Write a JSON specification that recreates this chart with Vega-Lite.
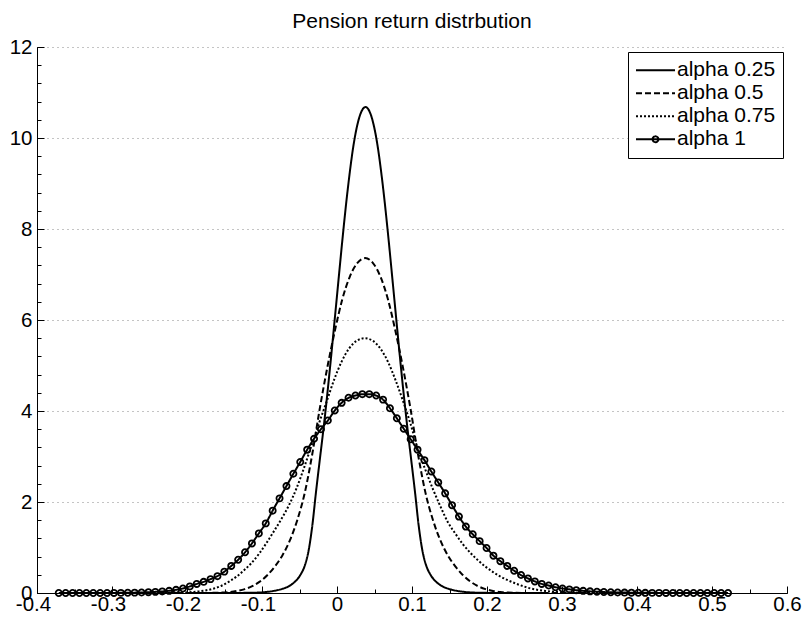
{
  "$schema": "https://vega.github.io/schema/vega-lite/v6.json",
  "width": 750,
  "height": 546,
  "autosize": {"type": "none"},
  "padding": {"left": 37, "top": 47, "right": 17, "bottom": 32},
  "title": {"text": "Pension return distrbution", "font": "Liberation Sans", "fontSize": 21, "fontWeight": "normal", "color": "black", "anchor": "middle", "frame": "group", "offset": 5},
  "data": {"values": [
    {"series":"alpha 0.25","x":-0.2,"y":0},{"series":"alpha 0.25","x":-0.163,"y":0},{"series":"alpha 0.25","x":-0.123,"y":0.003},{"series":"alpha 0.25","x":-0.103,"y":0.012},{"series":"alpha 0.25","x":-0.093,"y":0.025},{"series":"alpha 0.25","x":-0.083,"y":0.05},{"series":"alpha 0.25","x":-0.073,"y":0.09},{"series":"alpha 0.25","x":-0.063,"y":0.16},{"series":"alpha 0.25","x":-0.058,"y":0.22},{"series":"alpha 0.25","x":-0.053,"y":0.3},{"series":"alpha 0.25","x":-0.048,"y":0.42},{"series":"alpha 0.25","x":-0.043,"y":0.6},{"series":"alpha 0.25","x":-0.038,"y":0.92},{"series":"alpha 0.25","x":-0.033,"y":1.47},{"series":"alpha 0.25","x":-0.028,"y":2.22},{"series":"alpha 0.25","x":-0.023,"y":2.92},{"series":"alpha 0.25","x":-0.018,"y":3.61},{"series":"alpha 0.25","x":-0.013,"y":4.36},{"series":"alpha 0.25","x":-0.008,"y":5.17},{"series":"alpha 0.25","x":-0.003,"y":6.02},{"series":"alpha 0.25","x":0.002,"y":6.88},{"series":"alpha 0.25","x":0.007,"y":7.73},{"series":"alpha 0.25","x":0.012,"y":8.53},{"series":"alpha 0.25","x":0.017,"y":9.24},{"series":"alpha 0.25","x":0.022,"y":9.84},{"series":"alpha 0.25","x":0.027,"y":10.28},{"series":"alpha 0.25","x":0.032,"y":10.56},{"series":"alpha 0.25","x":0.038,"y":10.68},{"series":"alpha 0.25","x":0.044,"y":10.56},{"series":"alpha 0.25","x":0.049,"y":10.28},{"series":"alpha 0.25","x":0.054,"y":9.84},{"series":"alpha 0.25","x":0.059,"y":9.24},{"series":"alpha 0.25","x":0.064,"y":8.53},{"series":"alpha 0.25","x":0.069,"y":7.73},{"series":"alpha 0.25","x":0.074,"y":6.88},{"series":"alpha 0.25","x":0.079,"y":6.02},{"series":"alpha 0.25","x":0.084,"y":5.17},{"series":"alpha 0.25","x":0.089,"y":4.36},{"series":"alpha 0.25","x":0.094,"y":3.61},{"series":"alpha 0.25","x":0.099,"y":2.92},{"series":"alpha 0.25","x":0.104,"y":2.22},{"series":"alpha 0.25","x":0.109,"y":1.47},{"series":"alpha 0.25","x":0.114,"y":0.92},{"series":"alpha 0.25","x":0.119,"y":0.6},{"series":"alpha 0.25","x":0.124,"y":0.42},{"series":"alpha 0.25","x":0.129,"y":0.3},{"series":"alpha 0.25","x":0.134,"y":0.22},{"series":"alpha 0.25","x":0.139,"y":0.16},{"series":"alpha 0.25","x":0.149,"y":0.09},{"series":"alpha 0.25","x":0.159,"y":0.05},{"series":"alpha 0.25","x":0.169,"y":0.025},{"series":"alpha 0.25","x":0.179,"y":0.012},{"series":"alpha 0.25","x":0.199,"y":0.003},{"series":"alpha 0.25","x":0.239,"y":0},{"series":"alpha 0.25","x":0.28,"y":0},

    {"series":"alpha 0.5","x":-0.25,"y":0},{"series":"alpha 0.5","x":-0.183,"y":0},{"series":"alpha 0.5","x":-0.163,"y":0.005},{"series":"alpha 0.5","x":-0.143,"y":0.022},{"series":"alpha 0.5","x":-0.133,"y":0.045},{"series":"alpha 0.5","x":-0.123,"y":0.085},{"series":"alpha 0.5","x":-0.113,"y":0.15},{"series":"alpha 0.5","x":-0.103,"y":0.25},{"series":"alpha 0.5","x":-0.093,"y":0.39},{"series":"alpha 0.5","x":-0.083,"y":0.58},{"series":"alpha 0.5","x":-0.073,"y":0.82},{"series":"alpha 0.5","x":-0.063,"y":1.15},{"series":"alpha 0.5","x":-0.053,"y":1.6},{"series":"alpha 0.5","x":-0.043,"y":2.2},{"series":"alpha 0.5","x":-0.033,"y":3.05},{"series":"alpha 0.5","x":-0.023,"y":4.05},{"series":"alpha 0.5","x":-0.013,"y":4.95},{"series":"alpha 0.5","x":-0.003,"y":5.75},{"series":"alpha 0.5","x":0.007,"y":6.45},{"series":"alpha 0.5","x":0.017,"y":6.95},{"series":"alpha 0.5","x":0.027,"y":7.25},{"series":"alpha 0.5","x":0.0375,"y":7.36},{"series":"alpha 0.5","x":0.048,"y":7.25},{"series":"alpha 0.5","x":0.058,"y":6.95},{"series":"alpha 0.5","x":0.068,"y":6.45},{"series":"alpha 0.5","x":0.078,"y":5.75},{"series":"alpha 0.5","x":0.088,"y":4.95},{"series":"alpha 0.5","x":0.098,"y":4.05},{"series":"alpha 0.5","x":0.108,"y":3.05},{"series":"alpha 0.5","x":0.118,"y":2.2},{"series":"alpha 0.5","x":0.128,"y":1.6},{"series":"alpha 0.5","x":0.138,"y":1.15},{"series":"alpha 0.5","x":0.148,"y":0.82},{"series":"alpha 0.5","x":0.158,"y":0.58},{"series":"alpha 0.5","x":0.168,"y":0.39},{"series":"alpha 0.5","x":0.178,"y":0.25},{"series":"alpha 0.5","x":0.188,"y":0.15},{"series":"alpha 0.5","x":0.198,"y":0.085},{"series":"alpha 0.5","x":0.208,"y":0.045},{"series":"alpha 0.5","x":0.218,"y":0.022},{"series":"alpha 0.5","x":0.238,"y":0.005},{"series":"alpha 0.5","x":0.258,"y":0},{"series":"alpha 0.5","x":0.33,"y":0},

    {"series":"alpha 0.75","x":-0.33,"y":0},{"series":"alpha 0.75","x":-0.264,"y":0},{"series":"alpha 0.75","x":-0.224,"y":0.004},{"series":"alpha 0.75","x":-0.204,"y":0.012},{"series":"alpha 0.75","x":-0.184,"y":0.035},{"series":"alpha 0.75","x":-0.174,"y":0.06},{"series":"alpha 0.75","x":-0.164,"y":0.1},{"series":"alpha 0.75","x":-0.154,"y":0.16},{"series":"alpha 0.75","x":-0.144,"y":0.25},{"series":"alpha 0.75","x":-0.134,"y":0.36},{"series":"alpha 0.75","x":-0.124,"y":0.5},{"series":"alpha 0.75","x":-0.114,"y":0.66},{"series":"alpha 0.75","x":-0.104,"y":0.86},{"series":"alpha 0.75","x":-0.094,"y":1.1},{"series":"alpha 0.75","x":-0.084,"y":1.36},{"series":"alpha 0.75","x":-0.074,"y":1.63},{"series":"alpha 0.75","x":-0.064,"y":1.93},{"series":"alpha 0.75","x":-0.054,"y":2.3},{"series":"alpha 0.75","x":-0.044,"y":2.75},{"series":"alpha 0.75","x":-0.034,"y":3.24},{"series":"alpha 0.75","x":-0.024,"y":3.73},{"series":"alpha 0.75","x":-0.014,"y":4.2},{"series":"alpha 0.75","x":-0.004,"y":4.68},{"series":"alpha 0.75","x":0.006,"y":5.08},{"series":"alpha 0.75","x":0.016,"y":5.37},{"series":"alpha 0.75","x":0.026,"y":5.54},{"series":"alpha 0.75","x":0.037,"y":5.6},{"series":"alpha 0.75","x":0.048,"y":5.54},{"series":"alpha 0.75","x":0.058,"y":5.37},{"series":"alpha 0.75","x":0.068,"y":5.08},{"series":"alpha 0.75","x":0.078,"y":4.68},{"series":"alpha 0.75","x":0.088,"y":4.22},{"series":"alpha 0.75","x":0.098,"y":3.72},{"series":"alpha 0.75","x":0.108,"y":3.15},{"series":"alpha 0.75","x":0.118,"y":2.7},{"series":"alpha 0.75","x":0.128,"y":2.28},{"series":"alpha 0.75","x":0.138,"y":1.9},{"series":"alpha 0.75","x":0.148,"y":1.55},{"series":"alpha 0.75","x":0.158,"y":1.3},{"series":"alpha 0.75","x":0.168,"y":1.07},{"series":"alpha 0.75","x":0.178,"y":0.88},{"series":"alpha 0.75","x":0.188,"y":0.72},{"series":"alpha 0.75","x":0.198,"y":0.58},{"series":"alpha 0.75","x":0.208,"y":0.46},{"series":"alpha 0.75","x":0.218,"y":0.36},{"series":"alpha 0.75","x":0.228,"y":0.28},{"series":"alpha 0.75","x":0.238,"y":0.21},{"series":"alpha 0.75","x":0.248,"y":0.15},{"series":"alpha 0.75","x":0.258,"y":0.1},{"series":"alpha 0.75","x":0.268,"y":0.068},{"series":"alpha 0.75","x":0.278,"y":0.045},{"series":"alpha 0.75","x":0.298,"y":0.018},{"series":"alpha 0.75","x":0.318,"y":0.006},{"series":"alpha 0.75","x":0.338,"y":0.002},{"series":"alpha 0.75","x":0.368,"y":0},{"series":"alpha 0.75","x":0.42,"y":0},

    {"series":"alpha 1","x":-0.371,"y":0},{"series":"alpha 1","x":-0.3618,"y":0},{"series":"alpha 1","x":-0.3526,"y":0},{"series":"alpha 1","x":-0.3434,"y":0},{"series":"alpha 1","x":-0.3342,"y":0},{"series":"alpha 1","x":-0.325,"y":0.001},{"series":"alpha 1","x":-0.3158,"y":0.001},{"series":"alpha 1","x":-0.3066,"y":0.001},{"series":"alpha 1","x":-0.2974,"y":0.002},{"series":"alpha 1","x":-0.2882,"y":0.003},{"series":"alpha 1","x":-0.279,"y":0.005},{"series":"alpha 1","x":-0.2698,"y":0.008},{"series":"alpha 1","x":-0.2606,"y":0.012},{"series":"alpha 1","x":-0.2514,"y":0.018},{"series":"alpha 1","x":-0.2422,"y":0.025},{"series":"alpha 1","x":-0.233,"y":0.035},{"series":"alpha 1","x":-0.2238,"y":0.048},{"series":"alpha 1","x":-0.2146,"y":0.07},{"series":"alpha 1","x":-0.2054,"y":0.1},{"series":"alpha 1","x":-0.1962,"y":0.145},{"series":"alpha 1","x":-0.187,"y":0.2},{"series":"alpha 1","x":-0.1778,"y":0.245},{"series":"alpha 1","x":-0.1686,"y":0.305},{"series":"alpha 1","x":-0.1594,"y":0.37},{"series":"alpha 1","x":-0.1502,"y":0.47},{"series":"alpha 1","x":-0.141,"y":0.595},{"series":"alpha 1","x":-0.1318,"y":0.73},{"series":"alpha 1","x":-0.1226,"y":0.895},{"series":"alpha 1","x":-0.1134,"y":1.09},{"series":"alpha 1","x":-0.1042,"y":1.31},{"series":"alpha 1","x":-0.095,"y":1.53},{"series":"alpha 1","x":-0.0858,"y":1.81},{"series":"alpha 1","x":-0.0766,"y":2.08},{"series":"alpha 1","x":-0.0674,"y":2.35},{"series":"alpha 1","x":-0.0582,"y":2.62},{"series":"alpha 1","x":-0.049,"y":2.88},{"series":"alpha 1","x":-0.0398,"y":3.15},{"series":"alpha 1","x":-0.0306,"y":3.39},{"series":"alpha 1","x":-0.0214,"y":3.6},{"series":"alpha 1","x":-0.0122,"y":3.79},{"series":"alpha 1","x":-0.003,"y":4.01},{"series":"alpha 1","x":0.0062,"y":4.18},{"series":"alpha 1","x":0.0154,"y":4.29},{"series":"alpha 1","x":0.0246,"y":4.34},{"series":"alpha 1","x":0.0338,"y":4.37},{"series":"alpha 1","x":0.043,"y":4.37},{"series":"alpha 1","x":0.0522,"y":4.34},{"series":"alpha 1","x":0.0614,"y":4.25},{"series":"alpha 1","x":0.0706,"y":4.06},{"series":"alpha 1","x":0.0798,"y":3.84},{"series":"alpha 1","x":0.089,"y":3.61},{"series":"alpha 1","x":0.0982,"y":3.38},{"series":"alpha 1","x":0.1074,"y":3.15},{"series":"alpha 1","x":0.1166,"y":2.92},{"series":"alpha 1","x":0.1258,"y":2.67},{"series":"alpha 1","x":0.135,"y":2.43},{"series":"alpha 1","x":0.1442,"y":2.19},{"series":"alpha 1","x":0.1534,"y":1.93},{"series":"alpha 1","x":0.1626,"y":1.68},{"series":"alpha 1","x":0.1718,"y":1.46},{"series":"alpha 1","x":0.181,"y":1.29},{"series":"alpha 1","x":0.1902,"y":1.14},{"series":"alpha 1","x":0.1994,"y":0.99},{"series":"alpha 1","x":0.2086,"y":0.82},{"series":"alpha 1","x":0.2178,"y":0.7},{"series":"alpha 1","x":0.227,"y":0.595},{"series":"alpha 1","x":0.2362,"y":0.49},{"series":"alpha 1","x":0.2454,"y":0.395},{"series":"alpha 1","x":0.2546,"y":0.32},{"series":"alpha 1","x":0.2638,"y":0.255},{"series":"alpha 1","x":0.273,"y":0.2},{"series":"alpha 1","x":0.2822,"y":0.165},{"series":"alpha 1","x":0.2914,"y":0.127},{"series":"alpha 1","x":0.3006,"y":0.1},{"series":"alpha 1","x":0.3098,"y":0.08},{"series":"alpha 1","x":0.319,"y":0.062},{"series":"alpha 1","x":0.3282,"y":0.048},{"series":"alpha 1","x":0.3374,"y":0.037},{"series":"alpha 1","x":0.3466,"y":0.028},{"series":"alpha 1","x":0.3558,"y":0.021},{"series":"alpha 1","x":0.365,"y":0.016},{"series":"alpha 1","x":0.3742,"y":0.012},{"series":"alpha 1","x":0.3834,"y":0.009},{"series":"alpha 1","x":0.3926,"y":0.007},{"series":"alpha 1","x":0.4018,"y":0.005},{"series":"alpha 1","x":0.411,"y":0.004},{"series":"alpha 1","x":0.4202,"y":0.003},{"series":"alpha 1","x":0.4294,"y":0.002},{"series":"alpha 1","x":0.4386,"y":0.002},{"series":"alpha 1","x":0.4478,"y":0.001},{"series":"alpha 1","x":0.457,"y":0.001},{"series":"alpha 1","x":0.4662,"y":0.001},{"series":"alpha 1","x":0.4754,"y":0},{"series":"alpha 1","x":0.4846,"y":0},{"series":"alpha 1","x":0.4938,"y":0},{"series":"alpha 1","x":0.503,"y":0},{"series":"alpha 1","x":0.5122,"y":0},{"series":"alpha 1","x":0.5214,"y":0}
  ]},
  "layer": [
    {
      "mark": {"type": "line", "color": "black", "strokeWidth": 2, "interpolate": "monotone"},
      "encoding": {
        "x": {"field": "x", "type": "quantitative", "scale": {"domain": [-0.4, 0.6], "nice": false, "zero": false},
              "axis": {"orient": "bottom", "title": null, "values": [-0.4,-0.3,-0.2,-0.1,0,0.1,0.2,0.3,0.4,0.5,0.6], "tickSize": -7, "labelPadding": 8, "grid": false, "labelOffset": {"condition": {"test": "datum.value < 0", "value": -4}, "value": 0}, "labelExpr": "replace(format(datum.value, '.1~f'), '\u2212', '-')"}},
        "y": {"field": "y", "type": "quantitative", "scale": {"domain": [0, 12], "nice": false, "zero": false},
              "axis": {"orient": "left", "title": null, "values": [0,2,4,6,8,10,12], "tickSize": -7, "labelPadding": 12, "grid": true, "gridDash": [1,4], "gridColor": "#888888", "gridWidth": 1, "format": "d"}},
        "strokeDash": {"field": "series", "type": "nominal", "scale": {"domain": ["alpha 0.25","alpha 0.5","alpha 0.75","alpha 1"], "range": [[1,0],[6,3],[2,2],[1,0]]},
                  "legend": {"title": null, "orient": "none", "legendX": 591, "legendY": 5, "padding": 7, "strokeColor": "black", "fillColor": "white", "symbolSize": 1521, "symbolStrokeWidth": 2, "symbolStrokeColor": "black", "symbolFillColor": "transparent", "symbolOpacity": 1, "clipHeight": 22.5, "rowPadding": 0, "labelFont": "Liberation Sans", "labelFontSize": 21, "labelColor": "black", "labelOffset": 1, "labelLimit": 300, "zindex": 5}}
      }
    },
    {
      "transform": [{"filter": "datum.series == 'alpha 1'"}],
      "mark": {"type": "point", "shape": "circle", "filled": false, "color": "black", "strokeWidth": 1.8, "size": 38, "opacity": 1},
      "encoding": {
        "x": {"field": "x", "type": "quantitative",
              "axis": {"orient": "bottom", "title": null, "values": [-0.4,-0.35,-0.3,-0.25,-0.2,-0.15,-0.1,-0.05,0,0.05,0.1,0.15,0.2,0.25,0.3,0.35,0.4,0.45,0.5,0.55,0.6], "tickSize": -4, "labels": false, "domain": false, "grid": false}},
        "y": {"field": "y", "type": "quantitative",
              "axis": {"orient": "left", "title": null, "values": [0,0.4,0.8,1.2,1.6,2,2.4,2.8,3.2,3.6,4,4.4,4.8,5.2,5.6,6,6.4,6.8,7.2,7.6,8,8.4,8.8,9.2,9.6,10,10.4,10.8,11.2,11.6,12], "tickSize": -4, "labels": false, "domain": false, "grid": false}}
      }
    },
    {
      "mark": {"type": "point", "filled": false, "color": "black", "strokeWidth": 2, "opacity": 0},
      "encoding": {
        "x": {"field": "x", "type": "quantitative", "axis": null},
        "y": {"field": "y", "type": "quantitative", "axis": null},
        "shape": {"field": "series", "type": "nominal",
                  "scale": {"domain": ["alpha 0.25","alpha 0.5","alpha 0.75","alpha 1"], "range": ["M-1,0H1","M-1,0H1","M-1,0H1","M-1,0H1M-0.15,0A0.15,0.15,0,1,1,0.15,0A0.15,0.15,0,1,1,-0.15,0Z"]},
                  "legend": {"title": null, "orient": "none", "legendX": 591, "legendY": 5, "padding": 7, "strokeColor": "black", "fillColor": "white", "symbolSize": 1521, "symbolStrokeWidth": 2, "symbolStrokeColor": "black", "symbolFillColor": "transparent", "symbolOpacity": 1, "clipHeight": 22.5, "rowPadding": 0, "labelFont": "Liberation Sans", "labelFontSize": 21, "labelColor": "black", "labelOffset": 1, "labelLimit": 300, "zindex": 5}},
        "strokeDash": {"field": "series", "type": "nominal",
                  "scale": {"domain": ["alpha 0.25","alpha 0.5","alpha 0.75","alpha 1"], "range": [[1,0],[6,3],[2,2],[1,0]]},
                  "legend": {"title": null, "orient": "none", "legendX": 591, "legendY": 5, "padding": 7, "strokeColor": "black", "fillColor": "white", "symbolSize": 1521, "symbolStrokeWidth": 2, "symbolStrokeColor": "black", "symbolFillColor": "transparent", "symbolOpacity": 1, "clipHeight": 22.5, "rowPadding": 0, "labelFont": "Liberation Sans", "labelFontSize": 21, "labelColor": "black", "labelOffset": 1, "labelLimit": 300, "zindex": 5}}
      }
    }
  ],
  "resolve": {"axis": {"x": "independent", "y": "independent"}},
  "config": {
    "view": {"stroke": null},
    "font": "Liberation Sans",
    "axis": {"labelFont": "Liberation Sans", "labelFontSize": 20.5, "labelColor": "black", "domainColor": "black", "tickColor": "black", "domainWidth": 1, "tickWidth": 1, "labelFlush": false, "labelOverlap": false}
  }
}
